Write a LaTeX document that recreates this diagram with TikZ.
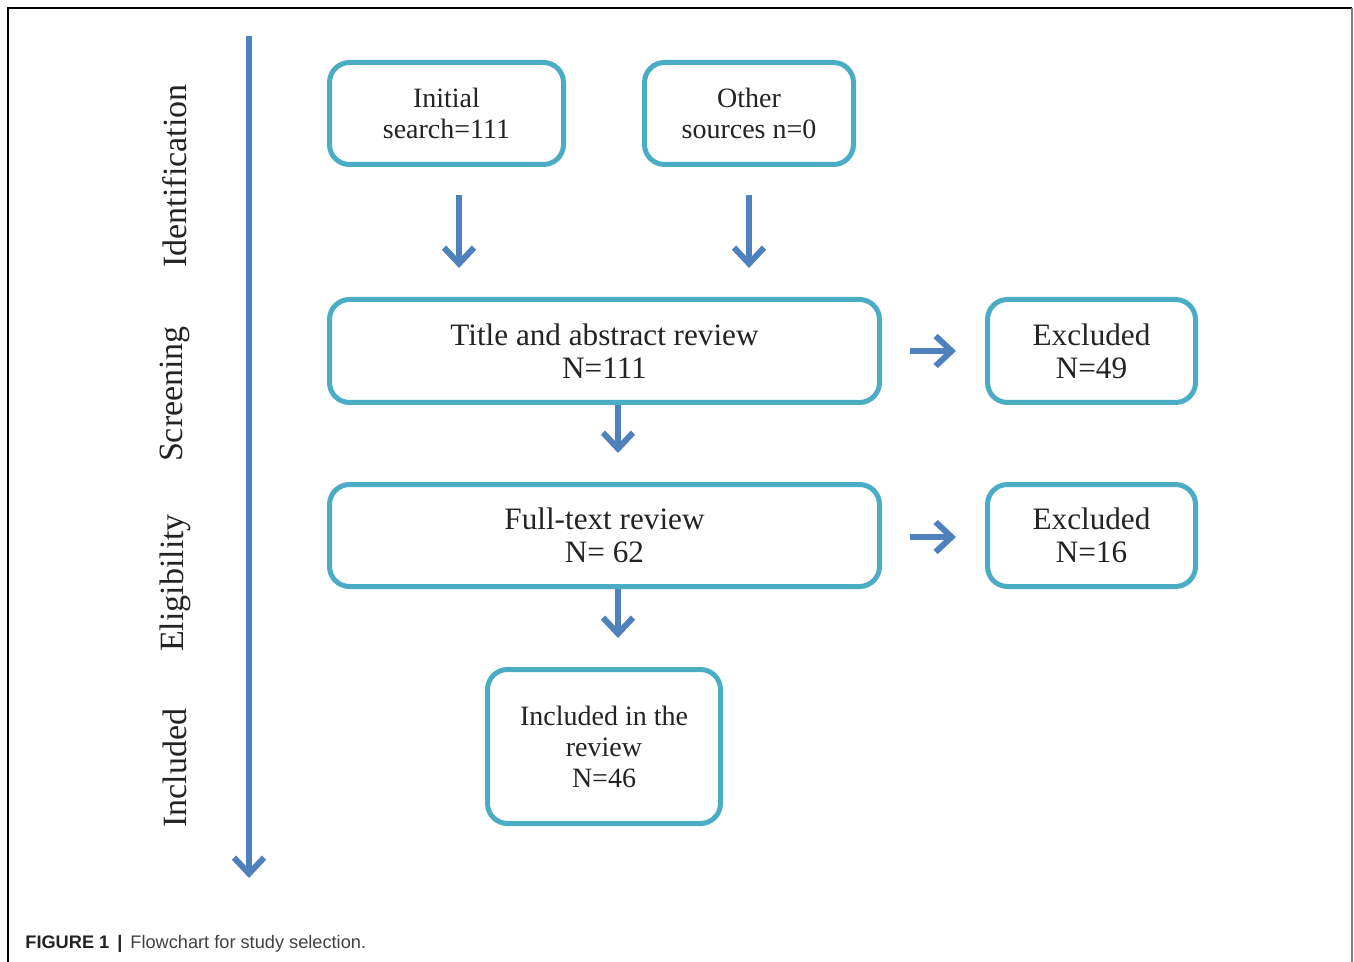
\documentclass[tikz,border=0pt]{standalone}
\usepackage{fontspec}
\setmainfont{Liberation Serif}
\setsansfont{Liberation Sans}
\usetikzlibrary{arrows.meta, calc}

\definecolor{boxline}{RGB}{75,172,198}
\definecolor{arrowblue}{RGB}{79,129,189}
\definecolor{textdark}{RGB}{35,35,35}

\tikzset{
  flowbox/.style={draw=boxline, line width=2.5pt, rounded corners=10pt, fill=white,
    align=center, inner sep=2pt, text=textdark},
  smalltext/.style={font=\fontsize{14}{15.5}\selectfont},
  bigtext/.style={font=\fontsize{15.6}{16.5}\selectfont},
  flowarrow/.style={draw=arrowblue, line width=2.7pt, -{Straight Barb[length=8pt, width=15pt, line width=3pt]}},
  stagelabel/.style={rotate=90, font=\fontsize{17}{18}\selectfont, text=textdark}
}

\begin{document}
\begin{tikzpicture}[x=0.5pt, y=-0.5pt]
  \useasboundingbox (0,0) rectangle (1354,962);

  % frame
  \draw[line width=1pt] (8,962) -- (8,8) -- (1352,8);
  \draw[line width=1.2pt, gray] (1352,8) -- (1352,962);

  % stage axis
  \coordinate (axtop) at (249,36);
  \coordinate (axbot) at (249,878);
  \draw[flowarrow] (axtop) -- (axbot);

  \node[stagelabel] (lblid) at (175,176) {Identification};
  \node[stagelabel] (lblscr) at (175,394) {Screening};
  \node[stagelabel] (lblelig) at (175,583) {Eligibility};
  \node[stagelabel] (lblinc) at (175,768) {Included};

  % boxes
  \node[flowbox, smalltext, minimum width=117pt, minimum height=51pt] (init) at (446.5,113.5) {Initial\\search=111};
  \node[flowbox, smalltext, minimum width=104.5pt, minimum height=51pt] (other) at (749,113.5) {Other\\sources n=0};
  \node[flowbox, bigtext, minimum width=275pt, minimum height=51.5pt] (title) at (604.5,351) {Title and abstract review\\N=111};
  \node[flowbox, bigtext, minimum width=104pt, minimum height=51.5pt] (excla) at (1091.5,351) {Excluded\\N=49};
  \node[flowbox, bigtext, minimum width=275pt, minimum height=51pt] (full) at (604.5,535.5) {Full-text review\\N= 62};
  \node[flowbox, bigtext, minimum width=104pt, minimum height=51pt] (exclb) at (1091.5,535.5) {Excluded\\N=16};
  \node[flowbox, smalltext, minimum width=116.5pt, minimum height=77pt] (incl) at (604,746.5) {Included in the\\review\\N=46};

  % connectors
  \draw[flowarrow, shorten <=14pt, shorten >=14.5pt] ([xshift=6.25pt]init.south) -- ([xshift=6.25pt]init.south |- title.north);
  \draw[flowarrow, shorten <=14pt, shorten >=14.5pt] (other.south) -- (other.south |- title.north);
  \draw[flowarrow, shorten >=14.5pt] ([xshift=6.75pt]title.south) -- ([xshift=6.75pt]title.south |- full.north);
  \draw[flowarrow, shorten >=14.5pt] ([xshift=6.75pt]full.south) -- ([xshift=6.75pt]full.south |- incl.north);
  \draw[flowarrow, shorten <=13.75pt, shorten >=14.5pt] (title.east) -- (excla.west);
  \draw[flowarrow, shorten <=13.75pt, shorten >=14.5pt] ([yshift=-0.75pt]full.east) -- ([yshift=-0.75pt]exclb.west);

  % caption
  \node[anchor=base west, inner sep=0pt, font=\sffamily\fontsize{9.1}{11}\selectfont] (caption) at (25,948)
    {\textbf{\color{textdark}FIGURE 1}\hspace{4pt}\textbf{\color{textdark}|}\hspace{4pt}{\color{darkgray}Flowchart for study selection.}};
\end{tikzpicture}
\end{document}
